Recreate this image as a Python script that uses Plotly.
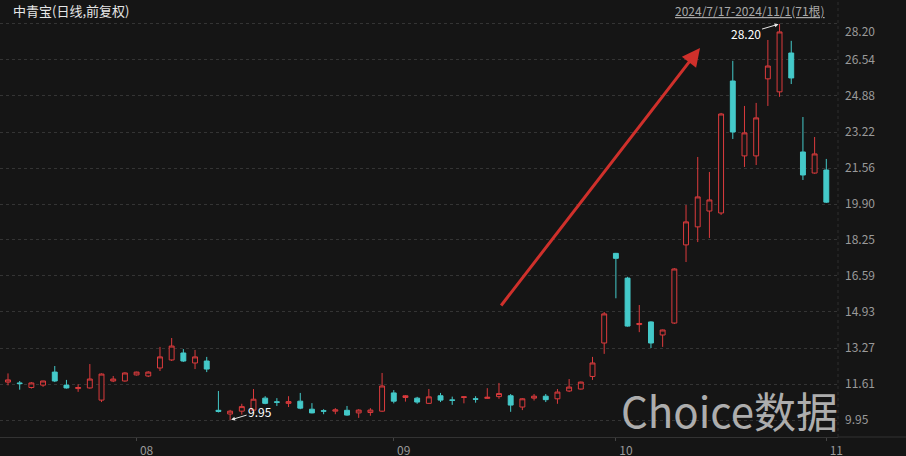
import pandas as pd
import plotly.graph_objects as go

# ---- data ----
holidays = ["2024-09-16", "2024-09-17", "2024-10-01", "2024-10-02", "2024-10-03",
            "2024-10-04", "2024-10-07"]
dates = [d.strftime("%Y-%m-%d") for d in pd.bdate_range("2024-07-17", "2024-11-01")
         if d.strftime("%Y-%m-%d") not in holidays]

opens = [11.70, 11.66, 11.45, 11.56, 12.16, 11.56, 11.40, 11.43, 10.87, 11.75,
         11.75, 12.03, 11.98, 12.35, 12.72, 13.04, 12.58, 12.67, 10.40, 10.23,
         10.36, 10.41, 10.96, 10.79, 10.72, 10.82, 10.45, 10.38, 10.36, 10.40,
         10.28, 10.30, 10.36, 11.20, 10.99, 10.96, 10.72, 11.07, 10.88, 10.99,
         10.93, 10.95, 11.03, 11.07, 10.55, 10.96, 11.05, 10.93, 11.29, 11.38,
         11.96, 13.50, 17.63, 16.49, 14.35, 14.47, 13.87, 14.42, 18.02, 18.85,
         19.58, 19.49, 25.57, 22.12, 22.12, 25.67, 25.07, 26.86, 22.30, 21.33,
         21.47]
highs = [12.10, 11.75, 11.70, 11.76, 12.44, 11.80, 11.60, 12.53, 12.10, 11.98,
         12.15, 12.18, 12.20, 13.32, 13.73, 13.22, 13.18, 12.86, 11.29, 10.42,
         10.70, 11.38, 11.05, 10.96, 11.05, 11.20, 10.73, 10.45, 10.50, 10.60,
         10.45, 10.50, 12.12, 11.33, 11.10, 11.02, 11.38, 11.20, 11.03, 11.05,
         11.05, 11.42, 11.66, 11.15, 10.96, 11.15, 11.15, 11.38, 11.84, 11.72,
         12.86, 14.93, 17.65, 16.55, 15.25, 14.50, 14.12, 16.95, 19.86, 22.07,
         21.38, 24.10, 26.50, 24.42, 24.56, 27.46, 28.20, 27.42, 23.91, 22.99,
         21.98]
lows = [11.55, 11.35, 11.40, 11.48, 11.70, 11.40, 11.25, 11.40, 10.78, 11.70,
        11.72, 12.00, 11.93, 12.21, 12.67, 12.63, 12.30, 12.16, 10.30, 9.95,
        10.20, 10.35, 10.68, 10.60, 10.55, 10.45, 10.26, 10.22, 10.22, 10.15,
        10.05, 10.15, 10.33, 10.72, 10.80, 10.70, 10.70, 10.78, 10.65, 10.72,
        10.75, 10.93, 10.93, 10.33, 10.41, 10.85, 10.78, 10.70, 11.24, 11.36,
        11.80, 13.00, 15.56, 14.25, 14.00, 13.27, 13.32, 14.38, 17.23, 18.15,
        18.34, 19.40, 22.90, 21.61, 21.70, 24.42, 24.84, 25.43, 21.01, 21.30,
        19.95]
closes = [11.80, 11.63, 11.66, 11.75, 11.75, 11.43, 11.45, 11.84, 12.07, 11.84,
          12.12, 12.16, 12.16, 12.86, 13.36, 12.67, 12.86, 12.30, 10.35, 10.36,
          10.57, 10.91, 10.72, 10.77, 10.80, 10.50, 10.28, 10.36, 10.42, 10.18,
          10.41, 10.41, 11.52, 10.82, 11.07, 10.78, 11.02, 10.87, 10.86, 11.02,
          10.91, 11.00, 11.17, 10.64, 10.93, 11.05, 10.89, 11.24, 11.47, 11.70,
          12.58, 14.84, 17.40, 14.28, 14.40, 13.50, 14.10, 16.91, 19.08, 20.23,
          20.09, 24.05, 23.22, 23.18, 23.87, 26.26, 27.83, 25.71, 21.24, 22.21,
          19.99]

y_ticks = [9.95, 11.61, 13.27, 14.93, 16.59, 18.25, 19.90, 21.56, 23.22, 24.88, 26.54, 28.20]
month_labels = ["08", "09", "10", "11"]
month_starts = ["2024-08-01", "2024-09-02", "2024-10-08", "2024-11-01"]

title_text = "中青宝(日线,前复权)"
range_text = "2024/7/17-2024/11/1(71根)"

# ---- style ----
BG = "#151515"
RED = "#dc3b3d"
CYAN = "#44c9c9"
GRID = "#343434"
AXTXT = "#9a9a9a"

W, H = 906, 456
ML, MR, MT, MB = 0, 68, 20, 19
PW, PH = W - ML - MR, H - MT - MB


def px(xpix):
    return (xpix - ML) / PW


def py(ypix):
    return (H - MB - ypix) / PH


fig = go.Figure()
fig.add_trace(go.Candlestick(
    x=dates, open=opens, high=highs, low=lows, close=closes,
    increasing=dict(line=dict(color=RED, width=1), fillcolor=BG),
    decreasing=dict(line=dict(color=CYAN, width=1), fillcolor=CYAN),
    whiskerwidth=0, showlegend=False, hoverinfo="skip",
))

ymin, ymax = 9.17, 28.38
n = len(dates)

fig.update_layout(
    width=W, height=H,
    margin=dict(l=ML, r=MR, t=MT, b=MB, autoexpand=False),
    paper_bgcolor=BG, plot_bgcolor=BG,
    boxgap=0.4,
    font=dict(family="Noto Sans CJK SC, Noto Sans, sans-serif", color=AXTXT, size=12),
    xaxis=dict(
        type="category", categoryorder="array", categoryarray=dates,
        range=[-0.684, n - 0.0], automargin=False,
        rangeslider=dict(visible=False),
        tickmode="array", tickvals=month_starts, ticktext=month_labels,
        ticks="outside", ticklen=3, tickcolor="#444", tickwidth=1,
        ticklabelshift=10, ticklabelstandoff=0,
        tickfont=dict(size=12, color=AXTXT),
        showgrid=False, zeroline=False,
        showline=True, linecolor="#333", linewidth=1,
    ),
    yaxis=dict(
        side="right", range=[ymin, ymax], automargin=False,
        tickmode="array", tickvals=y_ticks,
        ticktext=["" if v == y_ticks[-1] else f"{v:.2f}" for v in y_ticks],
        tickfont=dict(size=12, color=AXTXT),
        showgrid=True, gridcolor=GRID, griddash="dot", gridwidth=1,
        zeroline=False, ticks="", ticklabelstandoff=6,
    ),
)

# separator line right of plot (full height)
fig.add_shape(type="line", xref="paper", yref="paper", x0=1, x1=1, y0=0, y1=py(0),
              line=dict(color="#2e2e2e", width=1, dash="dot"))
# extend bottom axis line across the right margin
fig.add_shape(type="line", xref="paper", yref="paper", x0=1, x1=px(W), y0=0, y1=0,
              line=dict(color="#333", width=1))

# top tick label (shifted down like the reference)
fig.add_annotation(x=1, xref="paper", y=y_ticks[-1], yref="y", text=f"{y_ticks[-1]:.2f}",
                   xanchor="left", xshift=5, yshift=-7, showarrow=False,
                   font=dict(size=12, color=AXTXT))

# title
fig.add_annotation(x=px(11), y=py(11), xref="paper", yref="paper", text=title_text,
                   showarrow=False, xanchor="left", yanchor="middle",
                   font=dict(size=13, color="#e6e6e6"))
# date range text (underlined)
fig.add_annotation(x=px(827), y=py(11), xref="paper", yref="paper",
                   text=f"<u>{range_text}</u>",
                   showarrow=False, xanchor="right", yanchor="middle",
                   font=dict(size=12, color="#a8a8a8"))

# high/low markers
i_hi = highs.index(max(highs))
i_lo = lows.index(min(lows))
fig.add_annotation(x=dates[i_hi], y=highs[i_hi], text=f"{highs[i_hi]:.2f}",
                   showarrow=True, arrowhead=2, arrowsize=0.8, arrowwidth=1,
                   arrowcolor="#e6e6e6", ax=-34, ay=10, standoff=1,
                   font=dict(size=12, color="#ffffff"))
fig.add_annotation(x=dates[i_lo], y=lows[i_lo], text=f"{lows[i_lo]:.2f}",
                   showarrow=True, arrowhead=2, arrowsize=0.8, arrowwidth=1,
                   arrowcolor="#e6e6e6", ax=30, ay=-9, standoff=1,
                   font=dict(size=12, color="#ffffff"))

# big red trend arrow
fig.add_annotation(x=px(700), y=py(48), xref="paper", yref="paper", text="",
                   showarrow=True, arrowhead=2, arrowsize=1.2, arrowwidth=3,
                   arrowcolor="#cf302b", ax=-200, ay=259)

# watermark
fig.add_annotation(x=px(729), y=py(409), xref="paper", yref="paper", text="Choice数据",
                   showarrow=False,
                   font=dict(size=42, color="#c8c8c8",
                             family="Noto Sans CJK SC, sans-serif"),
                   xanchor="center", yanchor="middle", opacity=0.85)

fig.write_html("out.html",
               config={"displayModeBar": False, "staticPlot": True},
               post_script="document.body.style.margin='0';"
                           "document.body.style.background='" + BG + "';")
